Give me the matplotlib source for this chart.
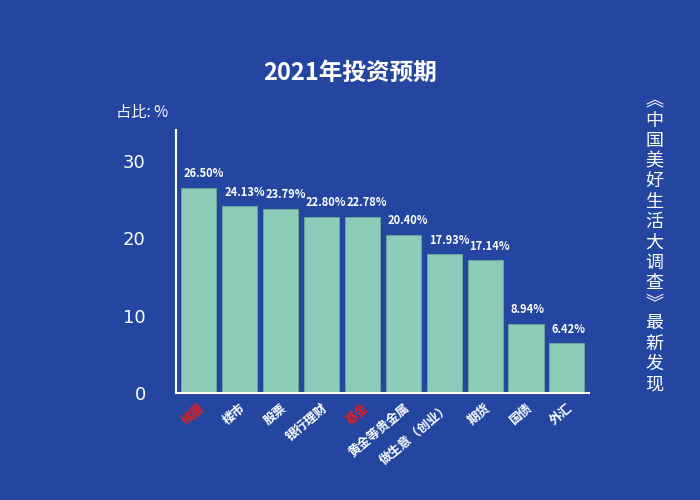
import matplotlib
matplotlib.use("Agg")
import matplotlib.pyplot as plt
from matplotlib import font_manager as fm

cands = [f for f in fm.findSystemFonts() if "CJK" in f or "Noto Sans SC" in f]
cands.sort(key=lambda f: (("Bold" not in f), f))
fp_b = fm.FontProperties(fname=cands[0]) if cands else fm.FontProperties(family="Noto Sans CJK SC")
reg = [f for f in cands if "Regular" in f]
fp_r = fm.FontProperties(fname=reg[0]) if reg else fp_b

categories = ["储蓄", "楼市", "股票", "银行理财", "基金", "黄金等贵金属", "做生意（创业）", "期货", "国债", "外汇"]
values = [26.50, 24.13, 23.79, 22.80, 22.78, 20.40, 17.93, 17.14, 8.94, 6.42]
red_labels = {0, 4}

bg = "#2446a0"
fig = plt.figure(figsize=(7, 5), dpi=100, facecolor=bg)
ax = fig.add_axes([0.252, 0.214, 0.59, 0.526], facecolor=bg)
x = range(len(values))
ax.bar(x, values, width=0.86, color="#8ccbb8", edgecolor="#6fa89a", linewidth=0.6)
for i, v in zip(x, values):
    ax.text(i - 0.38, v + 1.0, f"{v:.2f}%", color="white", fontproperties=fp_b, fontsize=8, ha="left", va="bottom")
ax.set_xlim(-0.55, len(values) - 0.45)
ax.set_ylim(0, 34)
ax.set_yticks([0, 10, 20, 30])
ax.tick_params(axis="y", length=0, colors="white", labelsize=13, pad=22)
ax.set_xticks(list(x))
ax.set_xticklabels(categories, rotation=40, ha="right", rotation_mode="anchor", fontproperties=fp_b, fontsize=9)
for i, t in enumerate(ax.get_xticklabels()):
    t.set_color("#e02020" if i in red_labels else "white")
ax.tick_params(axis="x", length=0, pad=6)
for s in ["top", "right"]:
    ax.spines[s].set_visible(False)
for s in ["left", "bottom"]:
    ax.spines[s].set_color("white")
    ax.spines[s].set_linewidth(1.5)
fig.text(0.165, 0.765, "占比: %", color="white", fontproperties=fp_r, fontsize=11)
fig.text(0.5, 0.854, "2021年投资预期", color="white", fontproperties=fp_b, fontsize=17, ha="center", va="center")
vert = "︽中国美好生活大调查︾最新发现"
fig.text(0.935, 0.515, "\n".join(vert), color="white", fontproperties=fp_r, fontsize=13,
         ha="center", va="center", linespacing=1.16)
fig.savefig("out.png", dpi=100, facecolor=bg)
